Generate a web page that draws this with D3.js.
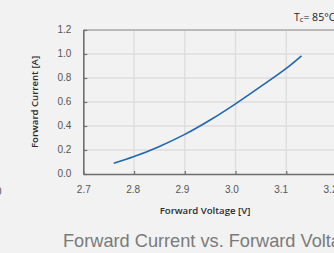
<!DOCTYPE html>
<html>
<head>
<meta charset="utf-8">
<script src="https://cdn.jsdelivr.net/npm/d3@7"></script>
<style>
  html, body { margin: 0; padding: 0; background: #f2f2f2; }
  svg { display: block; }
</style>
</head>
<body>
<div id="chart"></div>
<script>
// forward voltage [V] vs forward current [A]
var voltage = [2.76, 2.80, 2.85, 2.90, 2.95, 3.00, 3.05, 3.10, 3.13];
var current = [0.09, 0.145, 0.23, 0.33, 0.45, 0.585, 0.73, 0.88, 0.985];
var xTicks = [2.7, 2.8, 2.9, 3.0, 3.1, 3.2];
var yTicks = [0.0, 0.2, 0.4, 0.6, 0.8, 1.0, 1.2];

var width = 334, height = 253;
var margin = {top: 30, left: 83.3};
var plotRight = 337, plotBottom = 174;

var svg = d3.select('#chart').append('svg')
    .attr('width', width)
    .attr('height', height);

svg.append('rect')
    .attr('width', width)
    .attr('height', height)
    .attr('fill', '#f2f2f2');

var x = d3.scaleLinear().domain([2.7, 3.2]).range([margin.left, plotRight]);
// the tick labels in the original sit a bit tighter than the gridlines
var xLabel = d3.scaleLinear().domain([2.7, 3.2]).range([margin.left, 330]);
var y = d3.scaleLinear().domain([0, 1.2]).range([plotBottom, margin.top]);

// grid
var grid = svg.append('g').attr('stroke', '#dcdcdc').attr('stroke-width', 1.3);
grid.selectAll('.vg')
    .data(xTicks.slice(1))
    .enter().append('line')
    .attr('x1', function (d) { return x(d); })
    .attr('x2', function (d) { return x(d); })
    .attr('y1', y(1.2))
    .attr('y2', y(0));
grid.selectAll('.hg')
    .data(yTicks.slice(1, -1))
    .enter().append('line')
    .attr('x1', x(2.7))
    .attr('x2', plotRight)
    .attr('y1', function (d) { return y(d); })
    .attr('y2', function (d) { return y(d); });

// top border
svg.append('line')
    .attr('x1', x(2.7)).attr('x2', plotRight)
    .attr('y1', y(1.2)).attr('y2', y(1.2))
    .attr('stroke', '#a8a8a8').attr('stroke-width', 1.5);

var tickFont = '"Liberation Sans", Arial, sans-serif';

function styleAxis(g) {
  g.select('.domain').attr('stroke', '#6e6e6e').attr('stroke-width', 1.6);
  g.selectAll('.tick line').attr('stroke', '#6e6e6e').attr('stroke-width', 1.2);
  g.selectAll('.tick text')
      .attr('fill', '#555')
      .attr('font-family', tickFont)
      .attr('font-size', '10px');
}

var yAxis = d3.axisLeft(y)
    .tickValues(yTicks)
    .tickFormat(d3.format('.1f'))
    .tickSizeInner(-4)
    .tickSizeOuter(0)
    .tickPadding(12);
svg.append('g')
    .attr('transform', 'translate(' + x(2.7) + ',0)')
    .call(yAxis)
    .call(styleAxis)
    .selectAll('.tick text').attr('dy', '0.25em');

var xAxis = d3.axisBottom(x)
    .tickValues(xTicks)
    .tickFormat(d3.format('.1f'))
    .tickSizeInner(-3)
    .tickSizeOuter(0)
    .tickPadding(12);
svg.append('g')
    .attr('transform', 'translate(0,' + y(0) + ')')
    .call(xAxis)
    .call(styleAxis)
    .selectAll('.tick text')
    .attr('x', function (d) { return xLabel(d) - x(d); });

// curve
var pts = voltage.map(function (v, i) { return [v, current[i]]; });
var line = d3.line()
    .x(function (d) { return x(d[0]); })
    .y(function (d) { return y(d[1]); })
    .curve(d3.curveCatmullRom);
svg.append('path')
    .datum(pts)
    .attr('d', line)
    .attr('fill', 'none')
    .attr('stroke', '#1f68b0')
    .attr('stroke-width', 1.6);

// labels
var labelFont = '"Open Sans", "DejaVu Sans", sans-serif';
svg.append('text')
    .attr('transform', 'translate(38,' + ((y(0) + y(1.2)) / 2) + ') rotate(-90)')
    .attr('text-anchor', 'middle')
    .attr('font-family', labelFont)
    .attr('font-size', '9.6px')
    .attr('font-weight', 600)
    .attr('fill', '#2a2a2a')
    .text('Forward Current [A]');

svg.append('text')
    .attr('x', 205)
    .attr('y', 214)
    .attr('text-anchor', 'middle')
    .attr('font-family', labelFont)
    .attr('font-size', '9.6px')
    .attr('font-weight', 600)
    .attr('fill', '#2a2a2a')
    .text('Forward Voltage [V]');

var tc = svg.append('text')
    .attr('x', 294)
    .attr('y', 21)
    .attr('font-family', labelFont)
    .attr('font-size', '10.5px')
    .attr('fill', '#222');
tc.append('tspan').text('T');
tc.append('tspan').attr('font-size', '7.5px').attr('dy', 1).text('c');
tc.append('tspan').attr('dy', -1).text('= 85°C');

// stray label from neighbouring chart
svg.append('text')
    .attr('x', -4)
    .attr('y', 195)
    .attr('font-family', tickFont)
    .attr('font-size', '10px')
    .attr('fill', '#555')
    .text('0');

svg.append('text')
    .attr('x', 63)
    .attr('y', 247)
    .attr('font-family', tickFont)
    .attr('font-size', '18.2px')
    .attr('fill', '#7a7a7a')
    .text('Forward Current vs. Forward Voltage');
</script>
</body>
</html>
